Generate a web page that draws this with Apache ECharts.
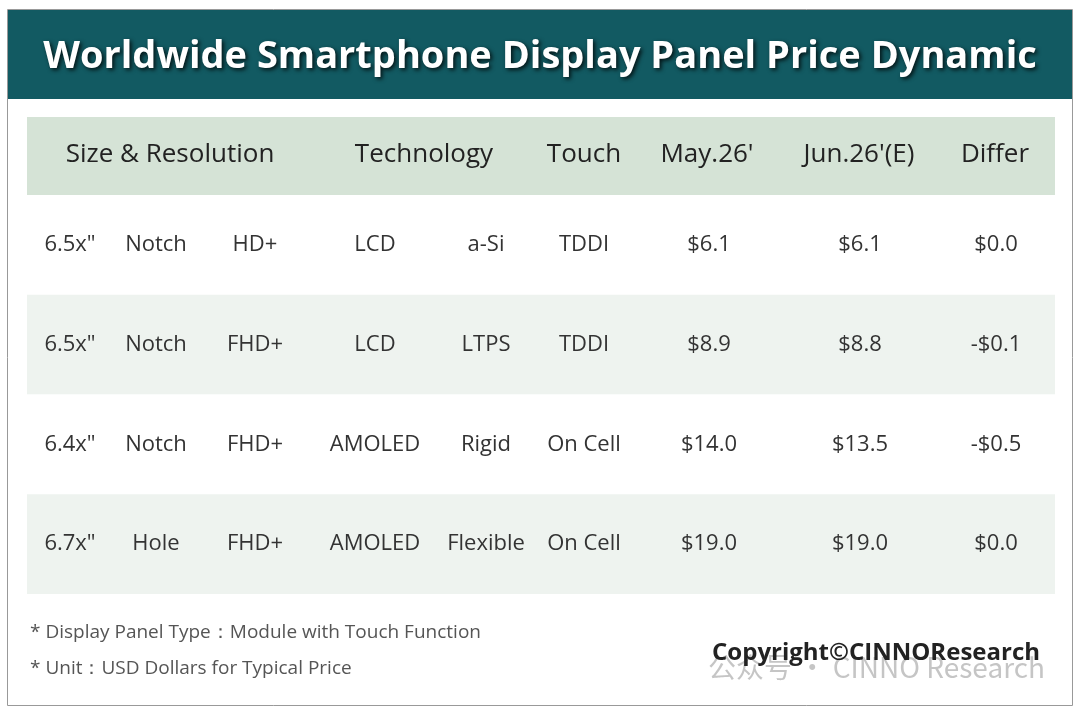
<!DOCTYPE html>
<html><head><meta charset="utf-8">
<script src="https://cdn.jsdelivr.net/npm/echarts@6/dist/echarts.min.js"></script>
<style>html,body{margin:0;padding:0;background:#fff}#c{width:1080px;height:711px}</style>
</head><body><div id="c"></div>
<script>
const title = "Worldwide Smartphone Display Panel Price Dynamic";
const headers = ["Size & Resolution", "Technology", "Touch", "May.26'", "Jun.26'(E)", "Differ"];
const sizes = ['6.5x"', '6.5x"', '6.4x"', '6.7x"'];
const notch = ["Notch", "Notch", "Notch", "Hole"];
const resolution = ["HD+", "FHD+", "FHD+", "FHD+"];
const display = ["LCD", "LCD", "AMOLED", "AMOLED"];
const backplane = ["a-Si", "LTPS", "Rigid", "Flexible"];
const touch = ["TDDI", "TDDI", "On Cell", "On Cell"];
const may26 = [6.1, 8.9, 14.0, 19.0];
const jun26 = [6.1, 8.8, 13.5, 19.0];
const notes = ["* Display Panel Type：Module with Touch Function", "* Unit：USD Dollars for Typical Price"];

// style: column centre positions (px)
const colX = [70, 156, 255, 375, 486, 584, 709, 860, 996];
const headX = [170, 424, 584, 707, 859, 995];
const fmt = v => (v < 0 ? "-$" : "$") + Math.abs(v).toFixed(1);
const rows = sizes.map((s, i) => [s, notch[i], resolution[i], display[i], backplane[i], touch[i],
  fmt(may26[i]), fmt(jun26[i]), fmt(Math.round((jun26[i] - may26[i]) * 10) / 10)]);

const font = "'Open Sans', 'Noto Sans', sans-serif";
const chart = echarts.init(document.getElementById('c'));
chart.setOption({
  animation: false,
  grid: { left: 27, right: 25, top: 195, bottom: 117 },
  xAxis: { type: 'value', min: 27, max: 1055, show: false },
  yAxis: { type: 'category', inverse: true, data: [0, 1, 2, 3], show: false },
  series: [{
    type: 'custom',
    data: [0, 1, 2, 3].map(i => [i]),
    renderItem: function (params, api) {
      const i = api.value(0);
      const c = api.coord([27, i]);
      const h = api.size([0, 1])[1];
      const bg = i % 2 === 1 ? '#eef3ef' : '#ffffff';
      const children = [{ type: 'rect', shape: { x: 27, y: c[1] - h / 2, width: 1028, height: h }, style: { fill: bg } }];
      rows[i].forEach((t, k) => children.push({ type: 'text', style: { text: t, x: api.coord([colX[k], i])[0], y: c[1], align: 'center', verticalAlign: 'middle', font: '22px ' + font, fill: '#333' } }));
      return { type: 'group', children };
    }
  }],
  graphic: [
    { type: 'rect', shape: { x: 7.5, y: 9.5, width: 1065, height: 696 }, style: { fill: 'none', stroke: '#999', lineWidth: 1 } },
    { type: 'rect', shape: { x: 8, y: 10, width: 1064, height: 89 }, style: { fill: '#125a62' } },
    { type: 'text', style: { text: title, x: 540, y: 57, align: 'center', verticalAlign: 'middle', font: 'bold 38px ' + font, fill: '#fff', textShadowColor: 'rgba(0,0,0,0.8)', textShadowBlur: 4, textShadowOffsetX: 2, textShadowOffsetY: 2 } },
    { type: 'rect', shape: { x: 27, y: 117, width: 1028, height: 78 }, style: { fill: '#d5e3d6' } },
    ...headers.map((t, k) => ({ type: 'text', style: { text: t, x: headX[k], y: 155, align: 'center', verticalAlign: 'middle', font: '26px ' + font, fill: '#222' } })),
    { type: 'text', style: { text: notes[0], x: 30, y: 633, verticalAlign: 'middle', font: '19px ' + font, fill: '#555' } },
    { type: 'text', style: { text: notes[1], x: 30, y: 669, verticalAlign: 'middle', font: '19px ' + font, fill: '#555' } },
    { type: 'text', style: { text: '公众号 · CINNO Research', x: 1045, y: 667, align: 'right', verticalAlign: 'middle', font: '28px ' + "'Noto Sans CJK SC', sans-serif", fill: 'rgba(150,150,150,0.55)' } },
    { type: 'text', style: { text: 'Copyright©CINNOResearch', x: 1040, y: 653, align: 'right', verticalAlign: 'middle', font: 'bold 24px ' + font, fill: '#222' } }
  ]
});
</script></body></html>
